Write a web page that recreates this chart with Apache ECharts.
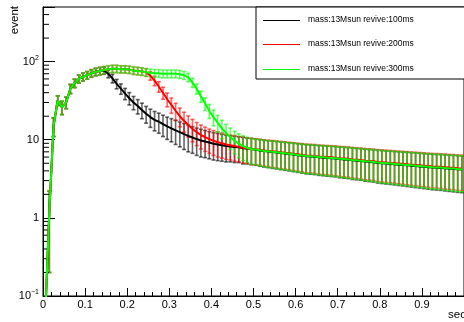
<!DOCTYPE html>
<html>
<head>
<meta charset="utf-8">
<script src="https://cdn.jsdelivr.net/npm/echarts@6/dist/echarts.min.js"></script>
<style>
  html, body { margin: 0; padding: 0; background: #fff; }
  #chart { width: 464px; height: 322px; }
</style>
</head>
<body>
<div id="chart"></div>
<script>
// Histogram binning: 100 bins of 0.01 s from 0 to 1 s
const binLow = 0;
const binWidth = 0.01;

// Series names
const seriesNames = [
  'mass:13Msun revive:100ms',
  'mass:13Msun revive:200ms',
  'mass:13Msun revive:300ms'
];

// Shared rising part (bins 0..13), identical for all three runs
const riseValues = [0.05, 1.2, 15, 32, 26, 30, 45, 53, 60, 64, 67, 71, 74, 76];
const riseErrors = [0, 1.0, 4, 4.5, 5, 5, 6, 6.5, 7, 7.2, 7.5, 7.8, 8, 8.2];

// revive 100 ms (bins 14..99)
const values100 = [
  77, 70, 61, 52, 45, 39, 34, 30, 27, 24, 21.5, 19.5, 18, 17, 15.8, 14.8, 14, 13.2, 12.5, 11.8,
  11.2, 10.7, 10.2, 9.8, 9.5, 9.2, 8.9, 8.7, 8.5, 8.3, 8.2, 8.1, 8.0, 7.8, 7.7, 7.6,
  7.45, 7.3, 7.15, 7.05, 6.95, 6.85, 6.75, 6.65, 6.55, 6.45, 6.35, 6.25, 6.15, 6.1, 6.05, 5.95, 5.9, 5.85, 5.8, 5.75,
  5.65, 5.6, 5.55, 5.45, 5.4, 5.35, 5.25, 5.2, 5.15, 5.05, 5.0, 4.95, 4.9, 4.85, 4.8, 4.75, 4.7, 4.65, 4.6, 4.55,
  4.5, 4.45, 4.4, 4.37, 4.35, 4.3, 4.25, 4.22, 4.18, 4.15
];
const errors100 = [
  8.3, 8.0, 7.6, 7.2, 6.8, 6.4, 6.1, 5.8, 5.6, 5.4, 5.2, 5.1, 5.0, 4.9, 4.8, 4.7, 4.6, 4.5, 4.4, 4.3,
  4.2, 4.0, 3.9, 3.8, 3.6, 3.5, 3.4, 3.3, 3.2, 3.1, 3.0, 3.0, 2.9, 2.9, 2.8, 2.8,
  2.74, 2.71, 2.68, 2.66, 2.65, 2.63, 2.61, 2.59, 2.57, 2.55, 2.53, 2.51, 2.49, 2.48, 2.47, 2.45, 2.44, 2.43, 2.42, 2.41,
  2.39, 2.38, 2.37, 2.35, 2.33, 2.32, 2.30, 2.29, 2.28, 2.26, 2.25, 2.24, 2.22, 2.21, 2.20, 2.19, 2.18, 2.17, 2.16, 2.14,
  2.13, 2.12, 2.11, 2.10, 2.10, 2.09, 2.07, 2.07, 2.06, 2.05
];

// revive 200 ms (bins 14..99)
const values200 = [
  78, 80, 81, 81, 80, 80, 79, 77, 76, 75, 73,
  66, 57, 48, 40, 33, 28, 23.5, 20, 17.5, 15.5, 13.8, 12.5, 11.5, 10.8, 10.2, 9.7, 9.3, 9.0, 8.7, 8.5, 8.3, 8.1, 7.9, 7.8, 7.6,
  7.55, 7.45, 7.3, 7.2, 7.1, 7.0, 6.9, 6.8, 6.7, 6.6, 6.5, 6.4, 6.3, 6.25, 6.2, 6.1, 6.05, 6.0, 5.95, 5.9,
  5.8, 5.75, 5.7, 5.6, 5.55, 5.5, 5.4, 5.35, 5.3, 5.2, 5.15, 5.1, 5.05, 5.0, 4.95, 4.9, 4.85, 4.8, 4.75, 4.7,
  4.65, 4.6, 4.55, 4.52, 4.5, 4.45, 4.4, 4.37, 4.33, 4.3
];
const errors200 = [
  8.4, 8.5, 8.6, 8.6, 8.5, 8.5, 8.5, 8.4, 8.3, 8.3, 8.2,
  8.1, 7.8, 7.4, 7.0, 6.6, 6.2, 5.8, 5.4, 5.0, 4.7, 4.4, 4.1, 3.9, 3.7, 3.5, 3.4, 3.3, 3.2, 3.1, 3.0, 3.0, 2.9, 2.9, 2.8, 2.8,
  2.76, 2.73, 2.70, 2.68, 2.67, 2.65, 2.63, 2.61, 2.59, 2.57, 2.55, 2.53, 2.51, 2.50, 2.49, 2.47, 2.46, 2.45, 2.44, 2.43,
  2.41, 2.40, 2.39, 2.37, 2.35, 2.34, 2.32, 2.31, 2.30, 2.28, 2.27, 2.26, 2.24, 2.23, 2.22, 2.21, 2.20, 2.19, 2.18, 2.16,
  2.15, 2.14, 2.13, 2.12, 2.12, 2.11, 2.09, 2.09, 2.08, 2.07
];

// revive 300 ms (bins 14..99)
const values300 = [
  78, 80, 81, 81, 80, 80, 79, 77, 76, 75, 73, 72, 71, 71, 70, 70, 70, 70, 69, 67,
  63, 54, 45, 36, 29, 23.5, 19.5, 16.5, 14, 12.2, 10.8, 9.7, 8.9, 8.3, 7.9, 7.6,
  7.5, 7.35, 7.2, 7.1, 7.0, 6.9, 6.8, 6.7, 6.6, 6.5, 6.4, 6.3, 6.2, 6.15, 6.1, 6.0, 5.95, 5.9, 5.85, 5.8,
  5.7, 5.65, 5.6, 5.5, 5.45, 5.4, 5.3, 5.25, 5.2, 5.1, 5.05, 5.0, 4.95, 4.9, 4.85, 4.8, 4.75, 4.7, 4.65, 4.6,
  4.55, 4.5, 4.45, 4.42, 4.4, 4.35, 4.3, 4.27, 4.23, 4.2
];
const errors300 = [
  8.4, 8.5, 8.6, 8.6, 8.5, 8.5, 8.5, 8.4, 8.3, 8.3, 8.2, 8.1, 8.1, 8.1, 8.0, 8.0, 8.0, 8.0, 8.0, 7.9,
  7.7, 7.2, 6.5, 5.9, 5.3, 4.8, 4.4, 4.0, 3.7, 3.5, 3.3, 3.1, 3.0, 2.9, 2.8, 2.75,
  2.74, 2.71, 2.68, 2.66, 2.65, 2.63, 2.61, 2.59, 2.57, 2.55, 2.53, 2.51, 2.49, 2.48, 2.47, 2.45, 2.44, 2.43, 2.42, 2.41,
  2.39, 2.38, 2.37, 2.35, 2.33, 2.32, 2.30, 2.29, 2.28, 2.26, 2.25, 2.24, 2.22, 2.21, 2.20, 2.19, 2.18, 2.17, 2.16, 2.14,
  2.13, 2.12, 2.11, 2.10, 2.10, 2.09, 2.07, 2.07, 2.06, 2.05
];

// Log-axis minor tick positions (2..9 per decade)
const yMinorTicks = [0.2, 0.3, 0.4, 0.5, 0.6, 0.7, 0.8, 0.9, 2, 3, 4, 5, 6, 7, 8, 9,
  20, 30, 40, 50, 60, 70, 80, 90, 200, 300, 400];

const FONT = '"Liberation Sans", Arial, Helvetica, sans-serif';
const colors = ['#000000', '#ff0000', '#00ff00'];
const barColors = ['rgba(0,0,0,0.6)', 'rgba(255,0,0,0.6)', 'rgba(0,255,0,0.6)'];

function binCenter(i) { return binLow + binWidth * (i + 0.5); }

function buildPoints(values, errors) {
  const allV = riseValues.concat(values);
  const allE = riseErrors.concat(errors);
  return allV.map((v, i) => [binCenter(i), v, allE[i]]);
}

const runs = [
  buildPoints(values100, errors100),
  buildPoints(values200, errors200),
  buildPoints(values300, errors300)
];

function errorBarRenderer(stroke) {
  return function (params, api) {
    const x = api.value(0), y = api.value(1), e = api.value(2);
    if (!(e > 0)) return null;
    const lo = api.coord([x, Math.max(y - e, 1e-4)]);
    const hi = api.coord([x, y + e]);
    const cap = 2;
    const st = { stroke: stroke, lineWidth: 1.6 };
    return {
      type: 'group',
      children: [
        { type: 'line', shape: { x1: lo[0], y1: lo[1], x2: hi[0], y2: hi[1] }, style: st },
        { type: 'line', shape: { x1: hi[0] - cap, y1: hi[1], x2: hi[0] + cap, y2: hi[1] }, style: st },
        { type: 'line', shape: { x1: lo[0] - cap, y1: lo[1], x2: lo[0] + cap, y2: lo[1] }, style: st }
      ]
    };
  };
}

const series = [];
runs.forEach((pts, k) => {
  series.push({
    type: 'custom',
    id: 'err' + k,
    renderItem: errorBarRenderer(barColors[k]),
    data: pts,
    encode: { x: 0, y: 1 },
    clip: true,
    silent: true,
    animation: false
  });
  series.push({
    type: 'line',
    name: seriesNames[k],
    data: pts.map(p => [p[0], p[1]]),
    itemStyle: { color: colors[k] },
    showSymbol: false,
    symbol: 'none',
    lineStyle: { width: 2, color: colors[k] },
    clip: true,
    silent: true,
    animation: false
  });
});

// Minor ticks of the logarithmic axis
series.push({
  type: 'custom',
  id: 'yMinor',
  data: yMinorTicks.map(t => [0, t]),
  encode: { x: 0, y: 1 },
  silent: true,
  animation: false,
  renderItem: function (params, api) {
    const p = api.coord([api.value(0), api.value(1)]);
    return { type: 'line', shape: { x1: p[0], y1: p[1], x2: p[0] + 6, y2: p[1] },
      style: { stroke: '#000', lineWidth: 1 } };
  }
});

function logLabel(v) {
  const e = Math.round(Math.log10(v));
  if (Math.abs(Math.log10(v) - e) > 1e-6) return '';
  if (e === 0) return '1';
  if (e === 1) return '10';
  return '10{s|' + (e < 0 ? '\u2212' + (-e) : e) + '}';
}

// Legend box: a framed panel with a line sample and the run name per row
const legendLeft = 256, legendTop = 7, legendRowPitch = 24.5;
const legendChildren = [
  { type: 'rect', shape: { x: 0, y: 0, width: 220, height: 72 },
    style: { fill: '#fff', stroke: '#000', lineWidth: 1 } }
];
seriesNames.forEach((n, k) => {
  const cy = 12.5 + k * legendRowPitch;
  const ly = Math.round(cy) + 0.5;
  legendChildren.push({ type: 'line', shape: { x1: 7, y1: ly, x2: 44, y2: ly },
    style: { stroke: colors[k], lineWidth: 1 } });
  legendChildren.push({ type: 'text', x: 52, y: cy,
    style: { text: n, font: '8.5px ' + FONT, fill: '#000', align: 'left', verticalAlign: 'middle' } });
});

const chart = echarts.init(document.getElementById('chart'), null, { renderer: 'canvas' });
chart.setOption({
  animation: false,
  backgroundColor: '#fff',
  grid: { left: 43, right: -1, top: 7, bottom: 26, show: true, borderColor: '#000', borderWidth: 1, backgroundColor: 'transparent' },
  xAxis: {
    type: 'value', min: 0, max: 1, interval: 0.1,
    axisLine: { lineStyle: { color: '#000', width: 1 } },
    axisTick: { inside: true, length: 8, lineStyle: { color: '#000' } },
    minorTick: { show: true, splitNumber: 5, length: 4, lineStyle: { color: '#000' } },
    splitLine: { show: false },
    axisLabel: { color: '#000', fontFamily: FONT, fontSize: 11, margin: 3, showMaxLabel: false,
      formatter: v => (Math.abs(v) < 1e-9 ? '0' : String(+v.toFixed(1))) }
  },
  yAxis: {
    type: 'log', logBase: 10, min: 0.1, max: 500,
    axisLine: { show: true, lineStyle: { color: '#000', width: 1 } },
    axisTick: { inside: true, length: 12, lineStyle: { color: '#000' } },
    splitLine: { show: false },
    axisLabel: {
      color: '#000', fontFamily: FONT, fontSize: 11, margin: 4,
      formatter: logLabel,
      rich: { s: { fontFamily: FONT, fontSize: 7, color: '#000', padding: [0, 0, 7, 0] } }
    }
  },
  graphic: [
    { type: 'text', x: 15, y: 6, rotation: Math.PI / 2,
      style: { text: 'event', font: '11.5px ' + FONT, fill: '#000', align: 'right', verticalAlign: 'middle' } },
    { type: 'text', x: 448, y: 315,
      style: { text: 'sec', font: '11.5px ' + FONT, fill: '#000', align: 'left', verticalAlign: 'middle' } },
    { type: 'group', x: legendLeft, y: legendTop, z: 100, children: legendChildren }
  ],
  series: series
});
</script>
</body>
</html>
